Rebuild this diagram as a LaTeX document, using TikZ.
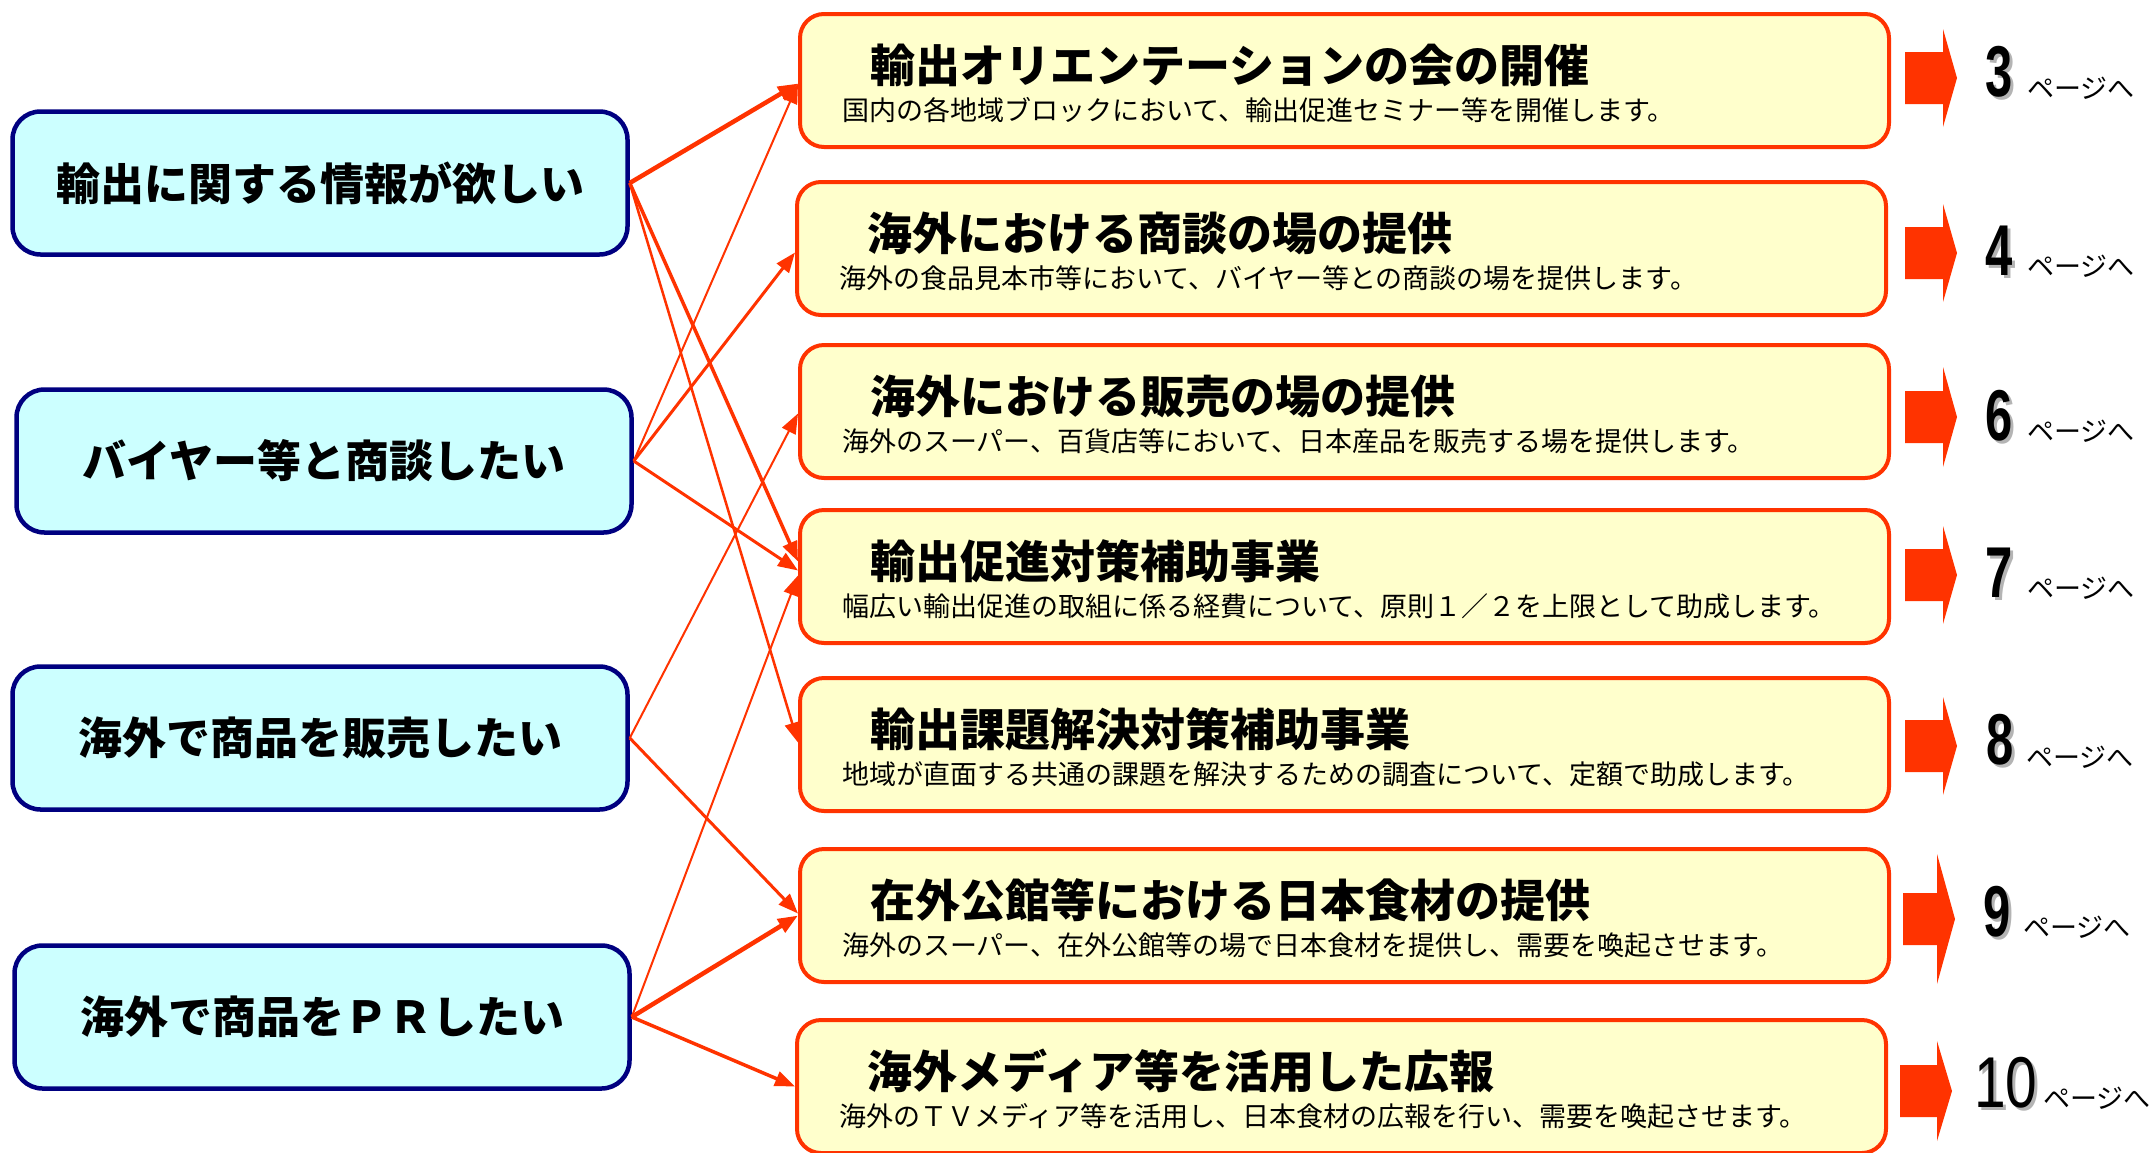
\documentclass[tikz,border=0pt]{standalone}
\usepackage{fontspec}
\usetikzlibrary{arrows.meta}
\newfontfamily\jp{Noto Sans CJK JP}
\newfontfamily\numfont{Liberation Sans}
\definecolor{boxred}{HTML}{FF3300}
\definecolor{navyb}{HTML}{000080}
\definecolor{cyanf}{HTML}{CCFFFF}
\definecolor{yellowf}{HTML}{FFFFCC}
\definecolor{shadowgray}{HTML}{B4B4B4}
% block arrow: tip x, tip y, head length, head half height
\newcommand\pgarrow[4]{%
  \fill[pgfill] (#1-52,#2-26) -- (#1-#3,#2-26) -- (#1-#3,#2-#4) -- (#1,#2)
    -- (#1-#3,#2+#4) -- (#1-#3,#2+26) -- (#1-52,#2+26) -- cycle;}
\begin{document}
\begin{tikzpicture}[x=1pt,y=-1pt,
  lbox/.style={draw=navyb, fill=cyanf, line width=4.5pt, rounded corners=28pt,
    minimum width=615pt, minimum height=143pt, inner sep=0pt,
    font=\jp\bfseries\fontsize{44}{50}\selectfont},
  rbox/.style={draw=boxred, fill=yellowf, line width=4pt, rounded corners=24pt,
    minimum width=1089pt, minimum height=133pt, inner sep=0pt, anchor=north west},
  ttl/.style={anchor=west, inner sep=0pt, font=\jp\bfseries\fontsize{45}{50}\selectfont},
  sub/.style={anchor=west, inner sep=0pt, font=\jp\fontsize{27}{30}\selectfont},
  conn/.style={draw=boxred, -{Triangle[length=20pt,width=15pt]}},
  num/.style={anchor=base west, inner sep=0pt, font=\numfont\bfseries\fontsize{72}{80}\selectfont},
  numten/.style={anchor=base west, inner sep=0pt, font=\numfont\fontsize{72}{80}\selectfont},
  pg/.style={anchor=base west, inner sep=0pt, font=\jp\fontsize{27}{30}\selectfont},
  pgfill/.style={fill=boxred}]

\useasboundingbox (0,0) rectangle (2152,1152);

% left boxes
\node[lbox] (B1) at (320,183) {輸出に関する情報が欲しい};
\node[lbox] (B2) at (324,461) {バイヤー等と商談したい};
\node[lbox] (B3) at (320,738) {海外で商品を販売したい};
\node[lbox] (B4) at (322,1017) {海外で商品をＰＲしたい};

% right boxes
\node[rbox] (R1) at (798,12) {};
\node[rbox] (R2) at (795,180) {};
\node[rbox] (R3) at (798,343) {};
\node[rbox] (R4) at (798,508) {};
\node[rbox] (R5) at (798,676) {};
\node[rbox] (R6) at (798,847) {};
\node[rbox] (R7) at (795,1018) {};

\node[ttl] (R1t) at ([shift={(72,53)}]R1.north west) {輸出オリエンテーションの会の開催};
\node[sub] (R1s) at ([shift={(44,98)}]R1.north west) {国内の各地域ブロックにおいて、輸出促進セミナー等を開催します。};
\node[ttl] (R2t) at ([shift={(72,53)}]R2.north west) {海外における商談の場の提供};
\node[sub] (R2s) at ([shift={(44,98)}]R2.north west) {海外の食品見本市等において、バイヤー等との商談の場を提供します。};
\node[ttl] (R3t) at ([shift={(72,53)}]R3.north west) {海外における販売の場の提供};
\node[sub] (R3s) at ([shift={(44,98)}]R3.north west) {海外のスーパー、百貨店等において、日本産品を販売する場を提供します。};
\node[ttl] (R4t) at ([shift={(72,53)}]R4.north west) {輸出促進対策補助事業};
\node[sub] (R4s) at ([shift={(44,98)}]R4.north west) {幅広い輸出促進の取組に係る経費について、原則１／２を上限として助成します。};
\node[ttl] (R5t) at ([shift={(72,53)}]R5.north west) {輸出課題解決対策補助事業};
\node[sub] (R5s) at ([shift={(44,98)}]R5.north west) {地域が直面する共通の課題を解決するための調査について、定額で助成します。};
\node[ttl] (R6t) at ([shift={(72,53)}]R6.north west) {在外公館等における日本食材の提供};
\node[sub] (R6s) at ([shift={(44,98)}]R6.north west) {海外のスーパー、在外公館等の場で日本食材を提供し、需要を喚起させます。};
\node[ttl] (R7t) at ([shift={(72,53)}]R7.north west) {海外メディア等を活用した広報};
\node[sub] (R7s) at ([shift={(44,98)}]R7.north west) {海外のＴＶメディア等を活用し、日本食材の広報を行い、需要を喚起させます。};

% connectors
\draw[conn, line width=4.5pt] (B1.east) -- ([yshift=-3pt]R1.west);
\draw[conn, line width=3.5pt] (B1.east) -- ([yshift=15pt]R4.west);
\draw[conn, line width=2.5pt] (B1.east) -- ([yshift=2pt]R5.west);
\draw[conn, line width=2pt] (B2.east) -- ([yshift=-3pt]R1.west);
\draw[conn, line width=3pt] (B2.east) -- ([yshift=-4pt]R2.west);
\draw[conn, line width=3pt] (B2.east) -- ([yshift=6pt]R4.west);
\draw[conn, line width=2pt] (B3.east) -- ([yshift=-2pt]R3.west);
\draw[conn, line width=3pt] (B3.east) -- ([yshift=2pt]R6.west);
\draw[conn, line width=2pt] (B4.east) -- ([yshift=1pt]R4.west);
\draw[conn, line width=4.5pt] (B4.east) -- (R6.west);
\draw[conn, line width=3.5pt] (B4.east) -- (R7.west);

% page arrows
\pgarrow{1957}{78}{14}{49}
\pgarrow{1957}{253}{14}{49}
\pgarrow{1957}{417}{14}{50}
\pgarrow{1957}{575}{14}{49}
\pgarrow{1957}{746}{14}{49}
\pgarrow{1955}{919}{18}{65}
\pgarrow{1952}{1091}{15}{50}

% page numbers
\node[num, text=shadowgray] (n3s) at (1988,99) {\scalebox{0.68}[1]{3}};
\node[num] (n3) at (1985,96) {\scalebox{0.68}[1]{3}};
\node[pg] (p3) at (2027,98) {ページへ};
\node[num, text=shadowgray] (n4s) at (1988,278) {\scalebox{0.68}[1]{4}};
\node[num] (n4) at (1985,275) {\scalebox{0.68}[1]{4}};
\node[pg] (p4) at (2027,276) {ページへ};
\node[num, text=shadowgray] (n6s) at (1988,443) {\scalebox{0.68}[1]{6}};
\node[num] (n6) at (1985,440) {\scalebox{0.68}[1]{6}};
\node[pg] (p6) at (2027,441) {ページへ};
\node[num, text=shadowgray] (n7s) at (1988,600) {\scalebox{0.68}[1]{7}};
\node[num] (n7) at (1985,597) {\scalebox{0.68}[1]{7}};
\node[pg] (p7) at (2027,598) {ページへ};
\node[num, text=shadowgray] (n8s) at (1989,767) {\scalebox{0.68}[1]{8}};
\node[num] (n8) at (1986,764) {\scalebox{0.68}[1]{8}};
\node[pg] (p8) at (2026,767) {ページへ};
\node[num, text=shadowgray] (n9s) at (1986,939) {\scalebox{0.68}[1]{9}};
\node[num] (n9) at (1983,936) {\scalebox{0.68}[1]{9}};
\node[pg] (p9) at (2023,937) {ページへ};
\node[numten, text=shadowgray] (n10s) at (1977,1110) {\scalebox{0.79}[1]{10}};
\node[numten] (n10) at (1974,1107) {\scalebox{0.79}[1]{10}};
\node[pg] (p10) at (2043,1108) {ページへ};
\end{tikzpicture}
\end{document}
